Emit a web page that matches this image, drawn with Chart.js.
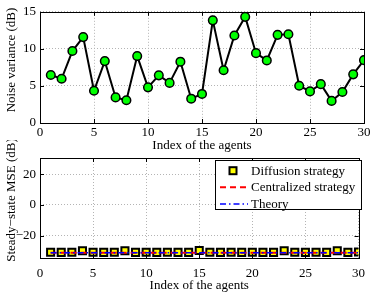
<!DOCTYPE html>
<html><head><meta charset="utf-8">
<script src="https://cdn.jsdelivr.net/npm/chart.js@4.4.0/dist/chart.umd.min.js"></script>
<style>
html,body{margin:0;padding:0;background:#fff;width:373px;height:296px;overflow:hidden}
#c1{position:absolute;left:0;top:0}
#c2{position:absolute;left:0;top:140px}
</style></head><body>
<canvas id="c1" width="373" height="154"></canvas>
<canvas id="c2" width="373" height="156"></canvas>
<script>
const agents = [1,2,3,4,5,6,7,8,9,10,11,12,13,14,15,16,17,18,19,20,21,22,23,24,25,26,27,28,29,30];
const noiseVarianceDB = [6.48,5.97,9.71,11.59,4.35,8.35,3.45,3.07,9.03,4.81,6.43,5.41,8.27,3.28,3.92,13.85,7.12,11.8,14.32,9.42,8.44,11.89,11.97,5.03,4.26,5.24,2.98,4.18,6.56,8.48];
const diffusionMSE = [-30.9,-31.0,-30.9,-29.9,-30.9,-31.0,-30.9,-29.9,-31.0,-30.9,-31.0,-30.9,-31.0,-31.0,-29.8,-30.9,-31.0,-30.9,-31.0,-30.9,-31.0,-31.0,-29.9,-30.9,-31.0,-30.9,-31.0,-29.9,-31.0,-30.8];
const centralizedMSE = [-31.3,-31.3,-31.3,-31.3,-31.3,-31.3,-31.3,-31.3,-31.3,-31.3,-31.3,-31.3,-31.3,-31.3,-31.3,-31.3,-31.3,-31.3,-31.3,-31.3,-31.3,-31.3,-31.3,-31.3,-31.3,-31.3,-31.3,-31.3,-31.3,-31.3];
const theoryMSE = [-31.2,-31.2,-31.2,-31.2,-31.2,-31.2,-31.2,-31.2,-31.2,-31.2,-31.2,-31.2,-31.2,-31.2,-31.2,-31.2,-31.2,-31.2,-31.2,-31.2,-31.2,-31.2,-31.2,-31.2,-31.2,-31.2,-31.2,-31.2,-31.2,-31.2];
const xTicks = [0,5,10,15,20,25,30];
const topYTicks = [0,5,10,15];
const bottomYTicks = [-20,0,20];
const bottomYTickLabels = ['\u221220','0','20'];
const seriesLabels = ['Diffusion strategy','Centralized strategy','Theory'];
const xTitle = 'Index of the agents';
const topYTitle = 'Noise variance (dB)';
const bottomYTitle = 'Steady\u2212state MSE (dB)';

const FONT = {family:'"Liberation Serif","Times New Roman",serif', size:13};
const FONT_CSS = FONT.size + 'px ' + FONT.family;
const toXY = (xs, ys) => xs.map((x,i)=>({x:x, y:ys[i]}));
const setTicks = arr => s => { s.ticks = arr.map(v=>({value:v})); };

const framePlugin = {
  id:'frame',
  afterDraw(chart, args, opts){
    const {ctx, chartArea:a, scales} = chart;
    ctx.save();
    ctx.strokeStyle = '#000'; ctx.lineWidth = 1; ctx.setLineDash([]);
    ctx.beginPath();
    scales.x.ticks.forEach(t=>{
      const p = Math.round(scales.x.getPixelForValue(t.value))+0.5;
      ctx.moveTo(p, a.bottom); ctx.lineTo(p, a.bottom-4);
      ctx.moveTo(p, a.top); ctx.lineTo(p, a.top+4);
    });
    scales.y.ticks.forEach(t=>{
      const p = Math.round(scales.y.getPixelForValue(t.value))+0.5;
      ctx.moveTo(a.left, p); ctx.lineTo(a.left+4, p);
      ctx.moveTo(a.right, p); ctx.lineTo(a.right-4, p);
    });
    ctx.stroke();
    ctx.strokeRect(Math.round(a.left)+0.5, Math.round(a.top)+0.5, Math.round(a.right-a.left), Math.round(a.bottom-a.top));
    // y axis title
    ctx.translate(12, opts.titleY);
    ctx.rotate(-Math.PI/2);
    ctx.fillStyle = '#000'; ctx.font = FONT_CSS; ctx.textAlign = 'center'; ctx.textBaseline = 'middle';
    ctx.fillText(opts.text, 0, 0);
    ctx.restore();
  }
};

const legendPlugin = {
  id:'customLegend',
  afterDraw(chart){
    const ctx = chart.ctx;
    const ds = chart.data.datasets;
    const o = 14; // offset of this canvas relative to 154
    const bx = 215.5, by = 6.5 + o, bw = 146, bh = 49;
    ctx.save();
    ctx.fillStyle = '#fff'; ctx.fillRect(bx, by, bw, bh);
    ctx.strokeStyle = '#000'; ctx.lineWidth = 1; ctx.setLineDash([]);
    ctx.strokeRect(bx, by, bw, bh);
    const rows = [16.7 + o, 33.3 + o, 50 + o];
    ctx.fillStyle = ds[0].pointBackgroundColor; ctx.strokeStyle = ds[0].pointBorderColor; ctx.lineWidth = 2;
    ctx.fillRect(229.5, rows[0]-3.5, 7, 7); ctx.strokeRect(229.5, rows[0]-3.5, 7, 7);
    ctx.strokeStyle = ds[1].borderColor; ctx.lineWidth = ds[1].borderWidth; ctx.setLineDash(ds[1].borderDash);
    ctx.beginPath(); ctx.moveTo(220, rows[1]); ctx.lineTo(248, rows[1]); ctx.stroke();
    ctx.strokeStyle = ds[2].borderColor; ctx.lineWidth = ds[2].borderWidth; ctx.setLineDash(ds[2].borderDash);
    ctx.beginPath(); ctx.moveTo(220, rows[2]); ctx.lineTo(248, rows[2]); ctx.stroke();
    ctx.setLineDash([]);
    ctx.fillStyle = '#000'; ctx.font = FONT_CSS; ctx.textBaseline = 'middle'; ctx.textAlign = 'left';
    ds.forEach((d,i)=> ctx.fillText(d.label, 251, rows[i]+0.5));
    ctx.restore();
  }
};

function baseScales(yMin, yMax, yTicks, yLabelFn, xHeight, xPad, xTitlePadBottom){
  return {
    x: {
      type:'linear', min:0, max:30,
      afterBuildTicks: setTicks(xTicks),
      afterFit: s => { s.height = xHeight; },
      ticks: {font:FONT, color:'#000', padding:xPad, maxRotation:0, autoSkip:false},
      grid: {color:'#b4b4b4', drawTicks:false, lineWidth:1},
      border: {display:false, dash:[1,2]},
      title: {display:true, text:xTitle, font:FONT, color:'#000', padding:{top:0,bottom:xTitlePadBottom}}
    },
    y: {
      type:'linear', min:yMin, max:yMax,
      afterBuildTicks: setTicks(yTicks),
      afterFit: s => { s.width = 40; },
      ticks: {font:FONT, color:'#000', padding:4, callback: yLabelFn},
      grid: {color:'#b4b4b4', drawTicks:false, lineWidth:1},
      border: {display:false, dash:[1,2]},
      title: {display:false}
    }
  };
}

new Chart(document.getElementById('c1'), {
  type:'line',
  data:{datasets:[{
    label:'Noise variance',
    data: toXY(agents, noiseVarianceDB),
    borderColor:'#000', borderWidth:2, tension:0,
    pointRadius:4.3, pointBackgroundColor:'#00ff00', pointBorderColor:'#000', pointBorderWidth:1.5
  }]},
  options:{
    responsive:false, animation:false, devicePixelRatio:1,
    layout:{padding:{top:5,right:9,left:0,bottom:0}},
    plugins:{legend:{display:false}, tooltip:{enabled:false}, frame:{text:topYTitle, titleY:60}},
    scales: baseScales(0, 15, topYTicks, v=>String(v), 31, 2, 1)
  },
  plugins:[framePlugin]
});

new Chart(document.getElementById('c2'), {
  type:'line',
  data:{datasets:[
    {label:seriesLabels[0], data:toXY(agents, diffusionMSE), showLine:false, order:3,
     pointStyle:'rect', pointRadius:5, pointBackgroundColor:'#ffff00', pointBorderColor:'#000', pointBorderWidth:2,
     borderColor:'#000', backgroundColor:'#ffff00'},
    {label:seriesLabels[1], data:toXY(agents, centralizedMSE), order:2,
     borderColor:'#ff0000', borderWidth:2, borderDash:[6,4], pointRadius:0, tension:0},
    {label:seriesLabels[2], data:toXY(agents, theoryMSE), order:1,
     borderColor:'#0000ff', borderWidth:1.5, borderDash:[6,3,1.5,3], pointRadius:0, tension:0}
  ]},
  options:{
    responsive:false, animation:false, devicePixelRatio:1,
    layout:{padding:{top:18,right:9,left:0,bottom:0}},
    plugins:{legend:{display:false}, tooltip:{enabled:false}, frame:{text:bottomYTitle, titleY:60}},
    scales: baseScales(-34.7, 30.7, bottomYTicks, v=>{const i=bottomYTicks.indexOf(v); return i>=0?bottomYTickLabels[i]:'';}, 38, 8, 3)
  },
  plugins:[framePlugin, legendPlugin]
});
</script>
</body></html>
